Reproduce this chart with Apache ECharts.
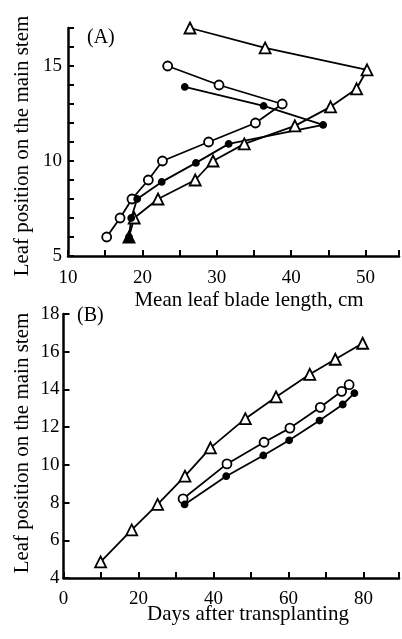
<!DOCTYPE html>
<html><head><meta charset="utf-8">
<script src="https://cdn.jsdelivr.net/npm/echarts@6/dist/echarts.min.js"></script>
<style>html,body{margin:0;padding:0;background:#fff}#c{width:402px;height:639px}</style>
</head><body><div id="c"></div>
<script>
// Panel A: mean leaf blade length (x) vs leaf position (y)
const aTriX = [18.2, 18.9, 22.1, 27.1, 29.5, 33.7, 40.5, 45.3, 48.8, 50.2, 36.5, 26.4];
const aTriY = [6, 7, 8, 9, 10, 10.9, 11.85, 12.85, 13.8, 14.8, 15.95, 17];
const aOpenX = [15.2, 17.0, 18.6, 20.8, 22.7, 28.9, 35.2, 38.8, 30.3, 23.4];
const aOpenY = [6, 7, 8, 9, 10, 11, 12, 13, 14, 15];
const aFillX = [18.2, 18.5, 19.3, 22.6, 27.2, 31.6, 44.3, 36.3, 25.7];
const aFillY = [6, 7, 8, 8.9, 9.9, 10.9, 11.9, 12.9, 13.9];
// Panel B: days after transplanting (x) vs leaf position (y)
const bTriX = [9.9, 18.2, 25.1, 32.4, 39.2, 48.5, 56.7, 65.7, 72.5, 79.8];
const bTriY = [4.85, 6.55, 7.9, 9.4, 10.9, 12.45, 13.6, 14.8, 15.6, 16.45];
const bOpenX = [31.9, 43.6, 53.5, 60.4, 68.5, 74.2, 76.2];
const bOpenY = [8.2, 10.05, 11.2, 11.95, 13.05, 13.9, 14.25];
const bFillX = [32.3, 43.4, 53.3, 60.2, 68.3, 74.5, 77.6];
const bFillY = [7.9, 9.4, 10.5, 11.3, 12.35, 13.2, 13.8];
const aXTicks = [10, 20, 30, 40, 50];
const aYTicks = [5, 10, 15];
const bXTicks = [0, 20, 40, 60, 80];
const bYTicks = [4, 6, 8, 10, 12, 14, 16, 18];

const zip = (xs, ys) => xs.map((x, i) => [x, ys[i]]);
const FONT = 'Liberation Serif';
const axisCommon = {
  axisLine: {show: true, lineStyle: {color: '#000', width: 2.5}},
  axisTick: {show: true, inside: true, length: 6, lineStyle: {color: '#000', width: 2}},
  splitLine: {show: false},
  axisLabel: {color: '#000', fontFamily: FONT, fontSize: 19}
};
function lineSeries(data, xi, symbol, size, filled, extra) {
  return Object.assign({
    type: 'line', xAxisIndex: xi, yAxisIndex: xi, data: data,
    symbol: symbol, symbolSize: size, showSymbol: true,
    lineStyle: {color: '#000', width: 1.8},
    itemStyle: {color: filled ? '#000' : '#fff', borderColor: '#000', borderWidth: 1.8},
    animation: false, z: 3
  }, extra || {});
}
const aTriData = zip(aTriX, aTriY).map((p, i) => i === 0 ? {value: p, itemStyle: {color: '#000'}} : p);
const TF = '21px "Liberation Serif"';

const chart = echarts.init(document.getElementById('c'));
chart.setOption({
  animation: false,
  grid: [
    {left: 68, top: 28, right: 0, height: 228},
    {left: 63.5, top: 314, right: 0, height: 264}
  ],
  xAxis: [
    Object.assign({}, axisCommon, {gridIndex: 0, type: 'value', min: 10, max: 54.5, interval: 5,
      axisLabel: Object.assign({}, axisCommon.axisLabel, {margin: 13,
        formatter: v => aXTicks.includes(v) ? String(v) : ''})}),
    Object.assign({}, axisCommon, {gridIndex: 1, type: 'value', min: 0, max: 89.5, interval: 10,
      axisLabel: Object.assign({}, axisCommon.axisLabel, {margin: 12,
        formatter: v => bXTicks.includes(v) ? String(v) : ''})})
  ],
  yAxis: [
    Object.assign({}, axisCommon, {gridIndex: 0, type: 'value', min: 5, max: 17, interval: 1,
      axisLabel: Object.assign({}, axisCommon.axisLabel, {margin: 6,
        formatter: v => aYTicks.includes(v) ? String(v) : ''})}),
    Object.assign({}, axisCommon, {gridIndex: 1, type: 'value', min: 4, max: 18, interval: 2,
      axisLabel: Object.assign({}, axisCommon.axisLabel, {margin: 4,
        formatter: v => bYTicks.includes(v) ? String(v) : ''})})
  ],
  graphic: [
    {type: 'text', left: 87, top: 28, style: {text: '(A)', font: '20px "Liberation Serif"', fill: '#000'}},
    {type: 'text', left: 77, top: 306, style: {text: '(B)', font: '20px "Liberation Serif"', fill: '#000'}},
    {type: 'text', x: 249, y: 300, style: {text: 'Mean leaf blade length, cm', font: TF, fill: '#000', align: 'center', verticalAlign: 'middle'}},
    {type: 'text', x: 248, y: 614, style: {text: 'Days after transplanting', font: TF, fill: '#000', align: 'center', verticalAlign: 'middle'}},
    {type: 'text', x: 22, y: 146, rotation: Math.PI / 2, style: {text: 'Leaf position on the main stem', font: TF, fill: '#000', align: 'center', verticalAlign: 'middle'}},
    {type: 'text', x: 22, y: 443, rotation: Math.PI / 2, style: {text: 'Leaf position on the main stem', font: TF, fill: '#000', align: 'center', verticalAlign: 'middle'}}
  ],
  series: [
    lineSeries(aTriData, 0, 'triangle', 11, false),
    lineSeries(zip(aOpenX, aOpenY), 0, 'circle', 9, false),
    lineSeries(zip(aFillX, aFillY), 0, 'circle', 6, true),
    lineSeries(zip(bTriX, bTriY), 1, 'triangle', 11, false),
    lineSeries(zip(bOpenX, bOpenY), 1, 'circle', 9, false),
    lineSeries(zip(bFillX, bFillY), 1, 'circle', 6, true)
  ]
});
</script></body></html>
